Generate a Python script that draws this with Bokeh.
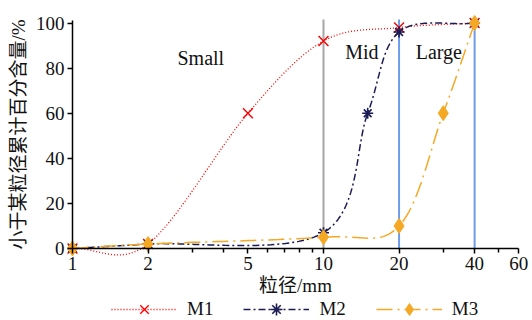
import numpy as np
from bokeh.plotting import figure
from bokeh.models import (ColumnDataSource, FixedTicker, Legend, LegendItem,
                          BasicTickFormatter)
from bokeh.core.properties import value
from bokeh.embed import file_html
from bokeh.resources import INLINE

# ---------------- data ----------------
m1_x = [1, 2, 5, 10, 20, 40]
m1_y = [0, 2, 60, 92, 98, 100]
m2_x = [1, 2, 10, 15, 20, 40]
m2_y = [0, 2, 7, 60, 96, 100]
m3_x = [1, 2, 10, 20, 30, 40]
m3_y = [0, 2, 5, 10, 60, 100]
series_names = ["M1", "M2", "M3"]

x_ticks = [1, 2, 5, 10, 20, 40, 60]
x_tick_labels = ["1", "2", "5", "10", "20", "40", "60"]
x_minor_ticks = [3, 4, 6, 7, 8, 9, 30, 50]
y_ticks = [0, 20, 40, 60, 80, 100]
y_tick_labels = ["0", "20", "40", "60", "80", "100"]

boundaries = [10, 20, 40]
boundary_colors = ["#a6a6a6", "#6d9ceb", "#6d9ceb"]
zone_names = ["Small", "Mid", "Large"]
zone_label_x = [2.62, 12.2, 23.3]
zone_label_y = [84.5, 87.0, 87.3]

x_label = "粒径/mm"
y_label = "小于某粒径累计百分含量/%"

SERIF = "Liberation Serif"
CJK = "'Liberation Serif', 'Noto Sans CJK SC'"


def smooth(xs, ys, n=40):
    """Catmull-Rom curve through the points, in log10(x) space (for drawing)."""
    P = np.column_stack([np.log10(np.asarray(xs, float)), np.asarray(ys, float)])
    E = np.vstack([2 * P[0] - P[1], P, 2 * P[-1] - P[-2]])
    t = np.linspace(0, 1, n)[:, None]
    h00 = 2 * t**3 - 3 * t**2 + 1
    h10 = t**3 - 2 * t**2 + t
    h01 = -2 * t**3 + 3 * t**2
    h11 = t**3 - t**2
    segs = []
    for i in range(len(P) - 1):
        p0, p1, p2, p3 = E[i], E[i + 1], E[i + 2], E[i + 3]
        m1 = (p2 - p0) / 2
        m2 = (p3 - p1) / 2
        seg = h00 * p1 + h10 * m1 + h01 * p2 + h11 * m2
        segs.append(seg if i == 0 else seg[1:])
    C = np.vstack(segs)
    return 10 ** C[:, 0], C[:, 1]


# The frame covers the whole canvas; axes sit at fixed data locations inside it.
p = figure(width=532, height=320, x_axis_type="log",
           x_range=(0.5166, 68.03), y_range=(-31.93, 109.98),
           output_backend="svg", toolbar_location=None,
           min_border_left=0, min_border_right=0,
           min_border_top=0, min_border_bottom=0)
p.outline_line_color = None
p.xgrid.visible = False
p.ygrid.visible = False
p.background_fill_color = "white"
p.border_fill_color = "white"

# boundary lines
p.segment(x0=boundaries, y0=[0] * len(boundaries), x1=boundaries,
          y1=[101.5] * len(boundaries), line_color=boundary_colors, line_width=2)

# series
series = [
    (m1_x, m1_y, "#ff0000", "1 2", 1.3, "x", 14, 1.4),
    (m2_x, m2_y, "#1b1b55", "7 3 2 3", 1.5, "asterisk", 11, 1.6),
    (m3_x, m3_y, "#f5a823", "16 5 2 5", 1.5, "diamond", 15, 1.0),
]
items = []
for (xs, ys, col, dash, lw, mk, ms, mlw), name in zip(series, series_names):
    cx, cy = smooth(xs, ys)
    lr = p.line(cx, cy, line_color=col, line_dash=dash, line_width=lw)
    if mk == "diamond":
        sr = p.scatter(xs, ys, marker=mk, size=ms, fill_color=col,
                       line_color=col, line_width=mlw)
    else:
        sr = p.scatter(xs, ys, marker=mk, size=ms, line_color=col,
                       line_width=mlw)
    items.append(LegendItem(label=name, renderers=[lr, sr]))

# zone labels
src = ColumnDataSource(dict(x=zone_label_x, y=zone_label_y, t=zone_names))
p.text(x="x", y="y", text="t", source=src, text_font=value(SERIF),
       text_font_size=value("20px"), text_align="left",
       text_baseline="alphabetic", text_color="#111111")

# axes
xa = p.xaxis[0]
xa.ticker = FixedTicker(ticks=x_ticks, minor_ticks=x_minor_ticks)
xa.formatter = BasicTickFormatter()
xa.major_label_overrides = {t: l for t, l in zip(x_ticks, x_tick_labels)}
xa.fixed_location = 0
xa.bounds = (1, 60)
ya = p.yaxis[0]
ya.ticker = FixedTicker(ticks=y_ticks, minor_ticks=[])
ya.major_label_overrides = {t: l for t, l in zip(y_ticks, y_tick_labels)}
ya.fixed_location = 1
ya.bounds = (0, 101)

for ax in (xa, ya):
    ax.axis_line_color = "black"
    ax.axis_line_width = 1.5
    ax.major_tick_line_color = "black"
    ax.major_tick_line_width = 1.5
    ax.minor_tick_line_color = "black"
    ax.minor_tick_line_width = 1.5
    ax.major_tick_in = 0
    ax.major_tick_out = 5
    ax.minor_tick_in = 0
    ax.minor_tick_out = 4
    ax.major_label_text_font = SERIF
    ax.major_label_text_font_size = "19px"
    ax.major_label_text_color = "#111111"
    ax.axis_label_text_font = CJK
    ax.axis_label_text_font_size = "19px"
    ax.axis_label_text_font_style = "normal"
    ax.axis_label_text_color = "#111111"
xa.major_label_standoff = 4
xa.axis_label = x_label
xa.axis_label_standoff = 1
ya.major_label_standoff = 3
ya.axis_label = y_label
ya.axis_label_standoff = 4

legend = Legend(items=items, orientation="horizontal", location=(111, -4),
                glyph_width=66, glyph_height=30, label_height=30,
                label_standoff=10, spacing=30, padding=0, margin=0,
                border_line_alpha=0, background_fill_alpha=0,
                label_text_font=SERIF, label_text_font_size="19px",
                label_text_color="#111111")
p.add_layout(legend)

open("out.html", "w").write(file_html(p, INLINE))
